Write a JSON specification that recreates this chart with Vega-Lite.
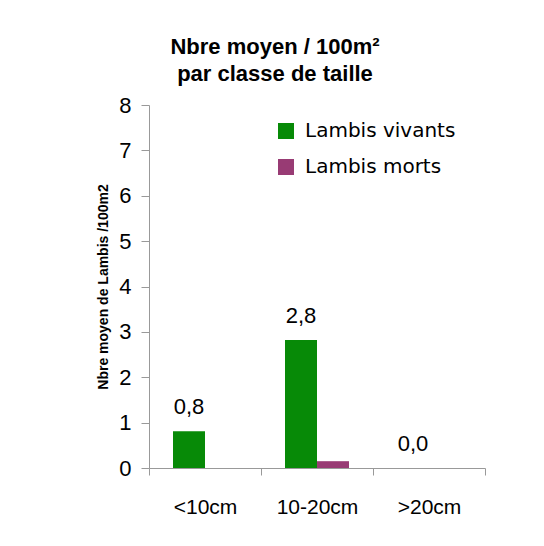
{
  "$schema": "https://vega.github.io/schema/vega-lite/v6.json",
  "autosize": {"type": "none"},
  "width": 336,
  "height": 363,
  "padding": {"left": 149, "top": 105, "right": 59, "bottom": 78},
  "background": "white",
  "title": {
    "text": ["Nbre moyen / 100m²", "par classe de taille"],
    "font": "Liberation Sans",
    "fontSize": 22,
    "fontWeight": "bold",
    "color": "black",
    "anchor": "middle",
    "frame": "group",
    "dx": -42,
    "offset": 8,
    "lineHeight": 27
  },
  "data": {
    "values": [
      {"classe": "<10cm", "statut": "Lambis vivants", "valeur": 0.81, "label": "0,8"},
      {"classe": "10-20cm", "statut": "Lambis vivants", "valeur": 2.82, "label": "2,8"},
      {"classe": ">20cm", "statut": "Lambis vivants", "valeur": 0.0, "label": "0,0"},
      {"classe": "<10cm", "statut": "Lambis morts", "valeur": 0.0, "label": ""},
      {"classe": "10-20cm", "statut": "Lambis morts", "valeur": 0.15, "label": ""},
      {"classe": ">20cm", "statut": "Lambis morts", "valeur": 0.0, "label": ""}
    ]
  },
  "encoding": {
    "x": {
      "field": "classe",
      "type": "nominal",
      "sort": ["<10cm", "10-20cm", ">20cm"],
      "scale": {"paddingInner": 0, "paddingOuter": 0},
      "axis": {
        "title": null,
        "labelAngle": 0,
        "labelFont": "Liberation Sans",
        "labelFontSize": 21,
        "labelColor": "black",
        "labelPadding": 21,
        "tickBand": "extent",
        "tickSize": 7,
        "domainColor": "#999999",
        "tickColor": "#999999",
        "grid": false
      }
    },
    "xOffset": {
      "field": "statut",
      "type": "nominal",
      "sort": ["Lambis vivants", "Lambis morts"],
      "scale": {"paddingInner": 0, "paddingOuter": 0.75}
    },
    "y": {
      "field": "valeur",
      "type": "quantitative",
      "scale": {"domain": [0, 8], "nice": false},
      "axis": {
        "title": "Nbre moyen de Lambis /100m2",
        "titleFont": "Liberation Sans",
        "titleFontSize": 14,
        "titleFontWeight": "bold",
        "titleColor": "black",
        "titlePadding": 8,
        "values": [0, 1, 2, 3, 4, 5, 6, 7, 8],
        "labelFont": "Liberation Sans",
        "labelFontSize": 22,
        "labelColor": "black",
        "labelPadding": 10,
        "tickSize": 8,
        "domainColor": "#999999",
        "tickColor": "#999999",
        "grid": false
      }
    }
  },
  "layer": [
    {
      "mark": {"type": "bar"},
      "encoding": {
        "color": {
          "field": "statut",
          "type": "nominal",
          "sort": ["Lambis vivants", "Lambis morts"],
          "scale": {"domain": ["Lambis vivants", "Lambis morts"], "range": ["#078a07", "#983b74"]},
          "legend": {
            "title": null,
            "orient": "none",
            "legendX": 127,
            "legendY": 16,
            "symbolType": "square",
            "symbolSize": 256,
            "symbolStrokeWidth": 0,
            "labelFont": "DejaVu Sans",
            "labelFontSize": 20,
            "labelColor": "black",
            "labelOffset": 9,
            "rowPadding": 16
          }
        }
      }
    },
    {
      "mark": {"type": "text", "baseline": "bottom", "dy": -12, "font": "Liberation Sans", "fontSize": 22, "color": "black"},
      "encoding": {
        "text": {"field": "label", "type": "nominal"}
      }
    }
  ],
  "config": {"view": {"stroke": null}}
}
